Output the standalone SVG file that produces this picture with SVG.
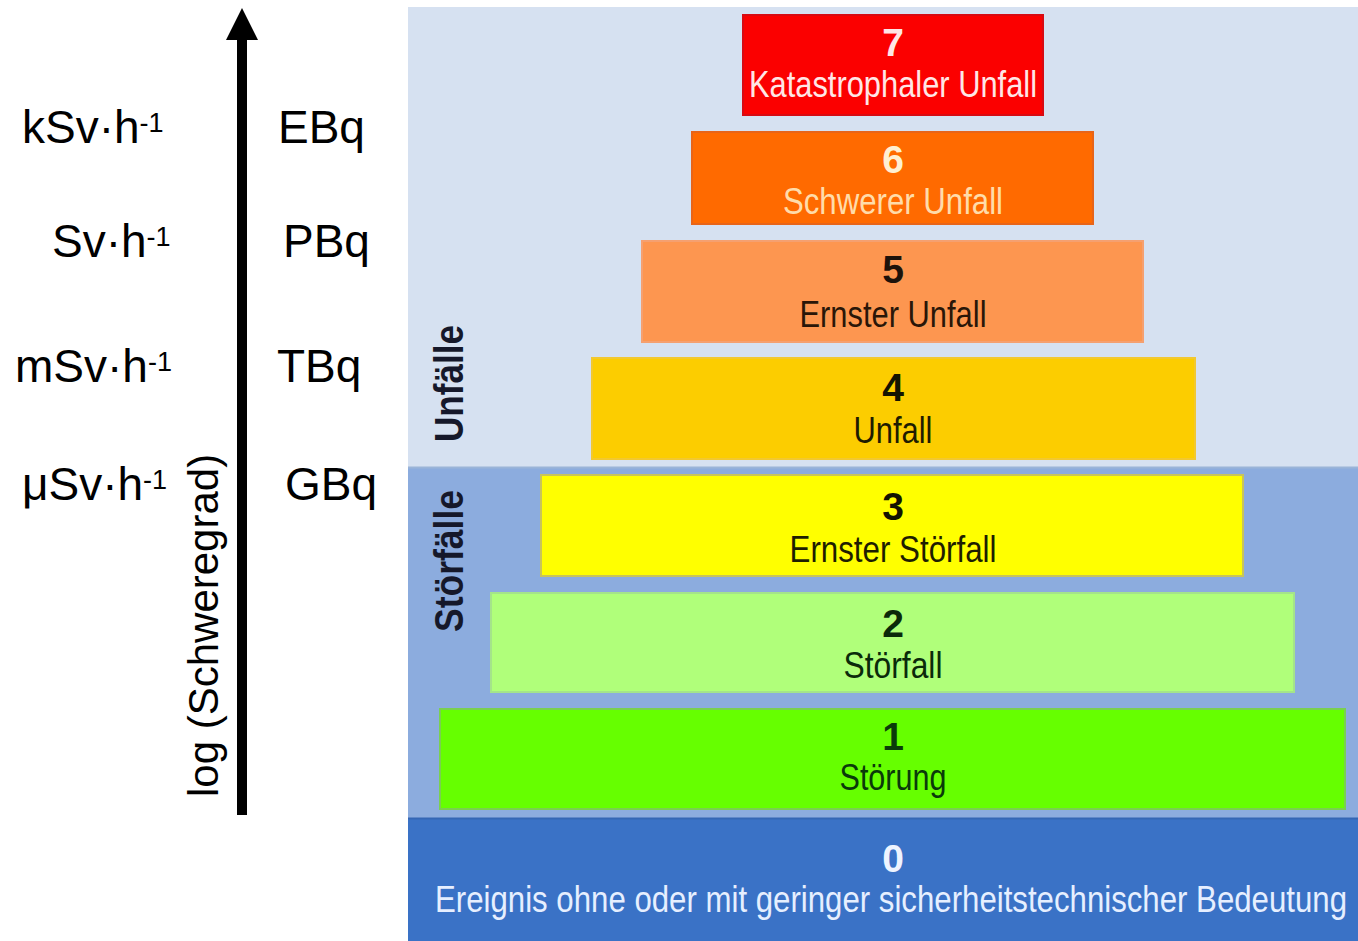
<svg xmlns="http://www.w3.org/2000/svg" width="1358" height="941" viewBox="0 0 1358 941">
  <defs>
    <style>
      .ax { font-family: "Liberation Sans", Arial, sans-serif; font-size: 46px; fill: #000; }
      .sup { font-size: 27px; }
      .num { font-family: "Liberation Sans", Arial, sans-serif; font-size: 39px; font-weight: bold; text-anchor: middle; }
      .lbl { font-family: "Liberation Sans Narrow", "Liberation Sans", Arial, sans-serif; font-size: 37px; text-anchor: middle; }
      .side { font-family: "Liberation Sans Narrow", "Liberation Sans", Arial, sans-serif; font-size: 41px; font-weight: bold; fill: #15182a; }
      .box { stroke-width: 2; }
    </style>
  </defs>
  <rect x="0" y="0" width="1358" height="941" fill="#ffffff"/>

  <!-- background bands -->
  <g id="bands">
    <rect x="408" y="7" width="950" height="460" fill="#d6e1f1"/>
    <rect x="408" y="467" width="950" height="351" fill="#8cacde"/>
    <rect x="408" y="818" width="950" height="123" fill="#3a72c6"/>
    <line x1="408" y1="467.5" x2="1358" y2="467.5" stroke="#9ab4d8" stroke-width="2"/>
    <line x1="408" y1="818.5" x2="1358" y2="818.5" stroke="#3466b4" stroke-width="2"/>
  </g>

  <g id="label-unfaelle">
    <text class="side" transform="translate(463,442) rotate(-90)" textLength="117" lengthAdjust="spacingAndGlyphs">Unfälle</text>
  </g>
  <g id="label-stoerfaelle">
    <text class="side" transform="translate(463,632) rotate(-90)" textLength="142" lengthAdjust="spacingAndGlyphs">Störfälle</text>
  </g>

  <!-- levels -->
  <g id="level-7">
    <rect class="box" x="743" y="15" width="300" height="100" fill="#fb0000" stroke="#d80a12"/>
    <text class="num" x="893" y="56" fill="#ffe6e6">7</text>
    <text class="lbl" x="893" y="97" fill="#ffe6e6" textLength="288" lengthAdjust="spacingAndGlyphs">Katastrophaler Unfall</text>
  </g>
  <g id="level-6">
    <rect class="box" x="692" y="132" width="401" height="92" fill="#ff6a00" stroke="#e86418"/>
    <text class="num" x="893" y="173" fill="#fff0d2">6</text>
    <text class="lbl" x="893" y="214" fill="#ffdcaa" textLength="220" lengthAdjust="spacingAndGlyphs">Schwerer Unfall</text>
  </g>
  <g id="level-5">
    <rect class="box" x="642" y="241" width="501" height="101" fill="#fd9650" stroke="#f5a070"/>
    <text class="num" x="893" y="283" fill="#1e120a">5</text>
    <text class="lbl" x="893" y="327" fill="#2a1608" textLength="187" lengthAdjust="spacingAndGlyphs">Ernster Unfall</text>
  </g>
  <g id="level-4">
    <rect class="box" x="592" y="358" width="603" height="101" fill="#fccd00" stroke="#f2c830"/>
    <text class="num" x="893" y="401" fill="#141400">4</text>
    <text class="lbl" x="893" y="443" fill="#1e1c00" textLength="79" lengthAdjust="spacingAndGlyphs">Unfall</text>
  </g>
  <g id="level-3">
    <rect class="box" x="541" y="475" width="702" height="101" fill="#ffff00" stroke="#c8c45a"/>
    <text class="num" x="893" y="520" fill="#141400">3</text>
    <text class="lbl" x="893" y="562" fill="#1e1e00" textLength="207" lengthAdjust="spacingAndGlyphs">Ernster Störfall</text>
  </g>
  <g id="level-2">
    <rect class="box" x="491" y="593" width="803" height="99" fill="#b0ff7a" stroke="#a4e48a"/>
    <text class="num" x="893" y="637" fill="#0a2a0a">2</text>
    <text class="lbl" x="893" y="678" fill="#0a2a0a" textLength="99" lengthAdjust="spacingAndGlyphs">Störfall</text>
  </g>
  <g id="level-1">
    <rect class="box" x="440" y="709" width="905" height="100" fill="#66ff00" stroke="#7ad050"/>
    <text class="num" x="893" y="750" fill="#0a3a0a">1</text>
    <text class="lbl" x="893" y="790" fill="#0a3a0a" textLength="107" lengthAdjust="spacingAndGlyphs">Störung</text>
  </g>
  <g id="level-0">
    <text class="num" x="893" y="872" fill="#eef4ff">0</text>
    <text class="lbl" transform="translate(891,912) scale(0.8,1)" x="0" y="0" fill="#e6efff" textLength="1140" lengthAdjust="spacingAndGlyphs">Ereignis ohne oder mit geringer sicherheitstechnischer Bedeutung</text>
  </g>

  <!-- axis labels -->
  <g id="dose-rates">
    <text class="ax" x="22" y="143">kSv·h<tspan class="sup" dy="-11">-1</tspan></text>
    <text class="ax" x="52" y="257">Sv·h<tspan class="sup" dy="-11">-1</tspan></text>
    <text class="ax" x="15" y="382">mSv·h<tspan class="sup" dy="-11">-1</tspan></text>
    <text class="ax" x="22" y="500">μSv·h<tspan class="sup" dy="-11">-1</tspan></text>
  </g>
  <g id="activities">
    <text class="ax" x="278" y="143">EBq</text>
    <text class="ax" x="283" y="257">PBq</text>
    <text class="ax" x="277" y="382">TBq</text>
    <text class="ax" x="285" y="500">GBq</text>
  </g>
  <g id="axis-title">
    <text class="ax" transform="translate(218,797) rotate(-90)" style="font-size:42px">log (Schweregrad)</text>
  </g>

  <g id="connectors">
    <rect x="237" y="38" width="10" height="777" fill="#000"/>
    <polygon points="242,8 258,40 226,40" fill="#000"/>
  </g>
</svg>
